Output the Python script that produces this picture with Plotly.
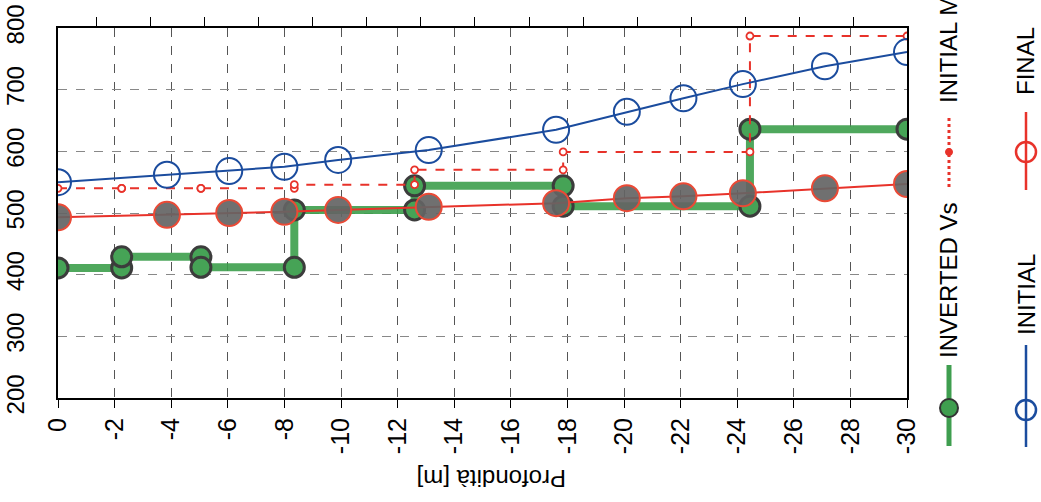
import plotly.graph_objects as go

# ---------------- data ----------------
layer_bounds = [0, -2.25, -5.05, -8.35, -12.6, -17.85, -24.45, -30]
inverted_vs = [411, 429, 412, 505, 544, 511, 636]
initial_model_vs = [540, 540, 540, 546, 570, 599, 787]

profile_depth = [0, -3.85, -6.05, -8.0, -9.9, -13.1, -17.6, -20.1, -22.1, -24.2, -27.1, -30]
initial_vs = [550, 562, 568, 575, 586, 602, 635, 664, 686, 709, 738, 761]
final_vs = [493, 497, 500, 502, 505, 510, 516, 524, 527, 532, 540, 547]

x_ticks = [0, -2, -4, -6, -8, -10, -12, -14, -16, -18, -20, -22, -24, -26, -28, -30]
x_tick_labels = ["0", "-2", "-4", "-6", "-8", "-10", "-12", "-14", "-16", "-18",
                 "-20", "-22", "-24", "-26", "-28", "-30"]
y_ticks = [200, 300, 400, 500, 600, 700, 800]
y_tick_labels = ["200", "300", "400", "500", "600", "700", "800"]

legend_labels = ["INVERTED Vs", "INITIAL MODEL", "INITIAL", "FINAL"]
x_title = "Profondità [m]"


def steps(bounds, vals):
    xs, ys = [], []
    for i, v in enumerate(vals):
        xs += [bounds[i], bounds[i + 1]]
        ys += [v, v]
    return xs, ys


inv_x, inv_y = steps(layer_bounds, inverted_vs)
ini_x, ini_y = steps(layer_bounds, initial_model_vs)

FONT = "Liberation Sans, Arial, sans-serif"
GREEN = "#3f9e4f"
BLUE = "#1b4c9e"
RED = "#e8322a"

W, H = 1041, 502
ML, MR, MT, MB = 58, 134, 28, 104
PW, PH = W - ML - MR, H - MT - MB


def px(x):
    return (x - ML) / PW


def py(y):
    return (H - MB - y) / PH


fig = go.Figure()

fig.add_trace(go.Scatter(
    x=inv_x, y=inv_y, mode="lines+markers", name=legend_labels[0],
    line=dict(color="rgba(60,158,75,0.9)", width=8),
    marker=dict(size=20, color="#46a356", line=dict(color="#3c3c3c", width=3)),
    showlegend=False))

fig.add_trace(go.Scatter(
    x=profile_depth, y=final_vs, mode="lines+markers", name=legend_labels[3],
    line=dict(color=RED, width=2),
    marker=dict(size=26, color="rgba(100,100,100,0.92)", line=dict(color="#ea4a36", width=2)),
    showlegend=False))

fig.add_trace(go.Scatter(
    x=ini_x, y=ini_y, mode="lines+markers", name=legend_labels[1],
    line=dict(color=RED, width=2, dash="dash"),
    marker=dict(size=7, color="white", line=dict(color=RED, width=1.8)),
    showlegend=False))

fig.add_trace(go.Scatter(
    x=profile_depth, y=initial_vs, mode="lines+markers", name=legend_labels[2],
    line=dict(color=BLUE, width=2),
    marker=dict(size=26, color="rgba(0,0,0,0)", line=dict(color=BLUE, width=2)),
    showlegend=False))

# invisible trace so the top tick axis is drawn
fig.add_trace(go.Scatter(x=[None], y=[None], xaxis="x2", showlegend=False, hoverinfo="skip"))

fig.update_layout(
    width=W, height=H,
    margin=dict(l=ML, r=MR, t=MT, b=MB, pad=0, autoexpand=False),
    paper_bgcolor="white", plot_bgcolor="white",
    font=dict(family=FONT, size=24, color="black"),
    xaxis=dict(
        range=[0, -30], tickmode="array", tickvals=x_ticks, ticktext=x_tick_labels,
        tickangle=-90, tickfont=dict(size=25), ticks="outside", ticklen=8, tickcolor="black",
        showgrid=True, gridcolor="#555555", griddash="dash", gridwidth=1, automargin=False,
        showline=True, linecolor="black", linewidth=2, mirror=True, zeroline=False,
    ),
    xaxis2=dict(
        overlaying="x", side="top", anchor="y", range=[-0.702, 14.98],
        tickmode="linear", tick0=0, dtick=1, ticks="outside", ticklen=10,
        tickcolor="black", showticklabels=False, showgrid=False, zeroline=False,
    ),
    yaxis=dict(
        range=[200, 800], tickmode="array", tickvals=y_ticks, ticktext=y_tick_labels,
        tickangle=-90, tickfont=dict(size=24), ticks="", ticklabelstandoff=22,
        showgrid=True, gridcolor="#888888", griddash="dash", gridwidth=1, automargin=False,
        showline=True, linecolor="black", linewidth=2, mirror=True, zeroline=False,
    ),
)

# x-axis title, upside down
fig.add_annotation(text=x_title, xref="paper", yref="paper", x=px(492), y=py(479),
                   xanchor="center", yanchor="middle",
                   showarrow=False, textangle=180, font=dict(size=24, family=FONT))

# ---------- legend (rotated) ----------
shapes = []


def vline(x, y0, y1, color, width, dash="solid"):
    shapes.append(dict(type="line", xref="paper", yref="paper", x0=px(x), x1=px(x),
                       y0=py(y0), y1=py(y1), line=dict(color=color, width=width, dash=dash)))


def circ(x, y, d, fill, color, width):
    shapes.append(dict(type="circle", xref="paper", yref="paper", xsizemode="pixel",
                       ysizemode="pixel", xanchor=px(x), yanchor=py(y),
                       x0=-d / 2, x1=d / 2, y0=-d / 2, y1=d / 2,
                       fillcolor=fill, line=dict(color=color, width=width)))


vline(949, 365, 446, GREEN, 5)
circ(949, 408, 18, GREEN, "#333333", 2)
vline(949, 118, 190, RED, 3, "dot")
circ(949, 152, 7, RED, RED, 1)
vline(1026, 112, 190, RED, 2.5)
circ(1026, 152, 20, "rgba(0,0,0,0)", RED, 2.5)
vline(1026, 345, 447, BLUE, 2.5)
circ(1026, 410, 20, "rgba(0,0,0,0)", BLUE, 2.5)
fig.update_layout(shapes=shapes)


def leg_text(text, x, y, yanchor="middle"):
    fig.add_annotation(text=text, xref="paper", yref="paper", x=px(x), y=py(y),
                       xanchor="center", yanchor=yanchor,
                       showarrow=False, textangle=-90, font=dict(size=24, family=FONT))


leg_text(legend_labels[0], 948, 280)
leg_text(legend_labels[1], 948, 105, "bottom")
leg_text(legend_labels[2], 1026, 295)
leg_text(legend_labels[3], 1026, 61)

fig.write_html("out.html")
